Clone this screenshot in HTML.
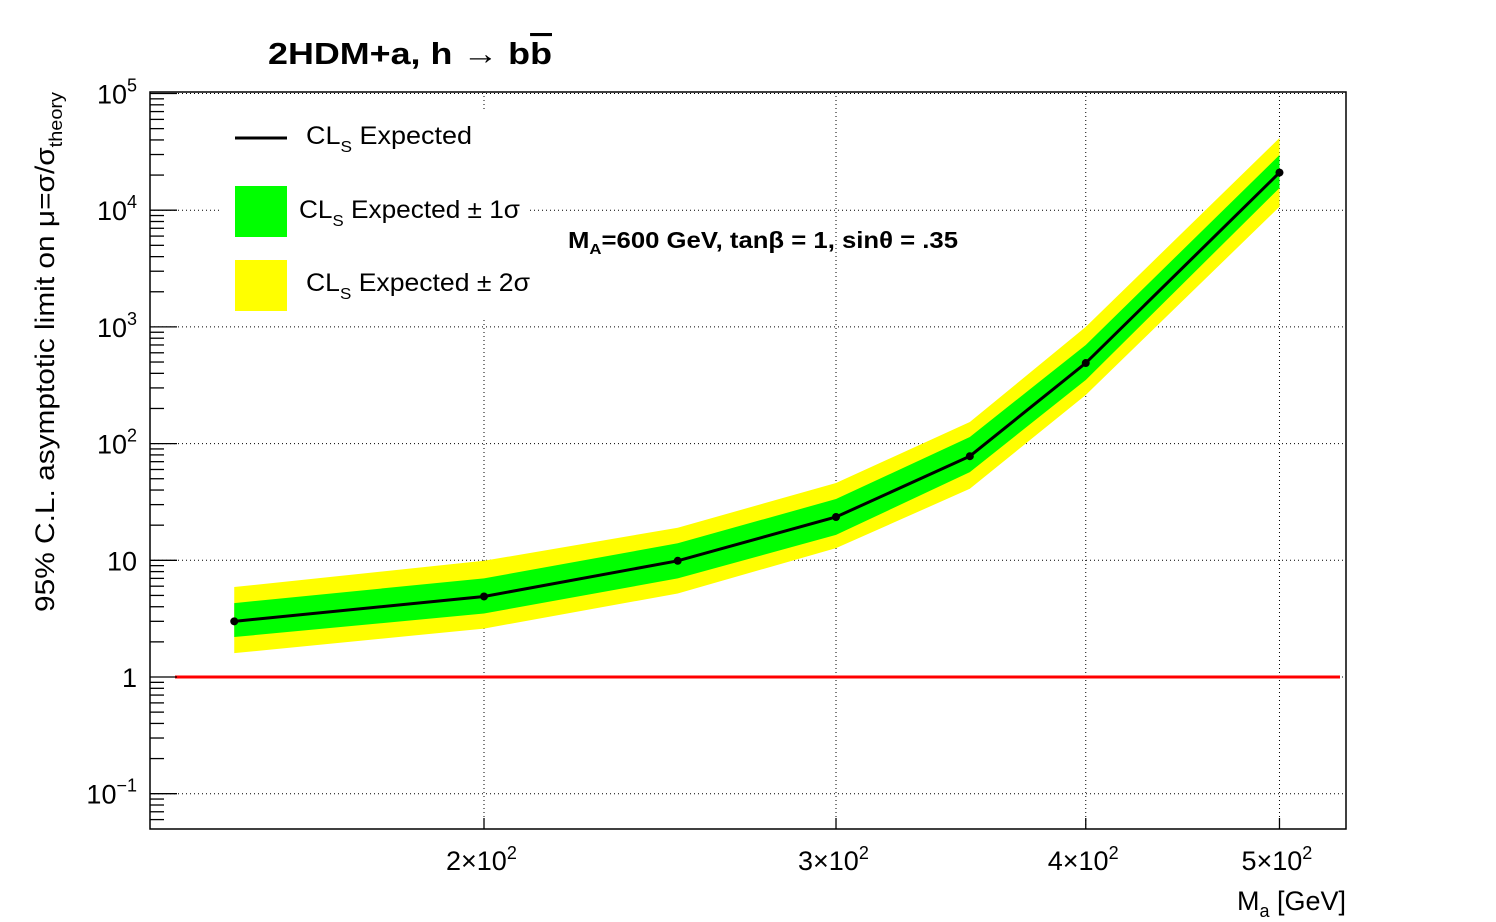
<!DOCTYPE html>
<html><head><meta charset="utf-8"><style>
html,body{margin:0;padding:0;background:#fff;}
svg{display:block;font-family:"Liberation Sans",sans-serif;}
</style></head><body>
<svg id="c" width="1496" height="922" xmlns="http://www.w3.org/2000/svg">
<rect width="1496" height="922" fill="#fff"/>
<g id="grid"></g>
<g id="bands"></g>
<g id="lines"></g>
<g id="axes"></g>
<g>
  <rect x="222" y="112" width="308" height="205" fill="#fff"/>
  <line x1="235" y1="138" x2="287" y2="138" stroke="#000" stroke-width="3"/>
  <text x="306" y="144" font-size="25" textLength="166" lengthAdjust="spacingAndGlyphs">CL<tspan font-size="16" dy="8">S</tspan><tspan dy="-8">  Expected</tspan></text>
  <rect x="235" y="186" width="52" height="51" fill="#00ff00"/>
  <text x="299" y="218" font-size="25" textLength="221" lengthAdjust="spacingAndGlyphs">CL<tspan font-size="16" dy="8">S</tspan><tspan dy="-8">  Expected ± 1σ</tspan></text>
  <rect x="235" y="260" width="52" height="51" fill="#ffff00"/>
  <text x="306" y="291" font-size="25" textLength="224" lengthAdjust="spacingAndGlyphs">CL<tspan font-size="16" dy="8">S</tspan><tspan dy="-8">  Expected ± 2σ</tspan></text>
</g>
<text x="268" y="64" font-size="31" font-weight="bold" textLength="284" lengthAdjust="spacingAndGlyphs">2HDM+a,   h → b<tspan text-decoration="overline">b</tspan></text>
<text x="568" y="248" font-size="23" font-weight="bold" textLength="390" lengthAdjust="spacingAndGlyphs">M<tspan font-size="15" dy="6">A</tspan><tspan dy="-6">=600 GeV, tanβ = 1, sinθ = .35</tspan></text>
<text x="1346" y="910" font-size="27" text-anchor="end">M<tspan font-size="18" dy="7">a</tspan><tspan dy="-7"> [GeV]</tspan></text>
<text transform="translate(54,612) rotate(-90)" font-size="27" textLength="520" lengthAdjust="spacingAndGlyphs">95% C.L. asymptotic limit on μ=σ/σ<tspan font-size="18" dy="8">theory</tspan></text>
</svg>
<script>
const masses=[150,200,250,300,350,400,500];
const expected=[3.0,4.9,9.9,23.5,78,490,21000];
const up1=[4.3,7.0,14,33.5,114,700,29700];
const lo1=[2.2,3.5,7.0,16.5,57,351,15500];
const up2=[5.9,9.9,19,46,153,1000,41600];
const lo2=[1.6,2.6,5.2,12.7,41,261,10700];
const xTicks=[200,300,400,500];
const xTickMant=["2","3","4","5"];
const yDecades=[-1,0,1,2,3,4,5];
const yTickBase=["10","1","10","10","10","10","10"];
const yTickExp=["−1","","","2","3","4","5"];
const refLevel=1;

const L=150,R=1346,T=92,B=829;
const X=m=>484+1999*Math.log10(m/200);
const Y=v=>677-116.7*Math.log10(v);
const NS="http://www.w3.org/2000/svg";
function mk(tag,attrs,parent){const e=document.createElementNS(NS,tag);for(const k in attrs)e.setAttribute(k,attrs[k]);parent.appendChild(e);return e;}
const grid=document.getElementById('grid'),bands=document.getElementById('bands'),lines=document.getElementById('lines'),axes=document.getElementById('axes');

xTicks.forEach((m,i)=>{
  const g=mk('line',{x1:X(m),x2:X(m),y1:T,y2:B,stroke:'#000','stroke-width':1,'stroke-dasharray':'1 3'},grid);
  
  
  const t=mk('line',{x1:X(m),x2:X(m),y1:B,y2:B-11,stroke:'#000','stroke-width':1.3},axes);
  
  
  const tx=mk('text',{x:X(m)-38,y:870,'font-size':27},axes);
  tx.innerHTML=xTickMant[i]+'×10<tspan font-size="18" dy="-11">2</tspan>';
  
  
});
yDecades.forEach((d,i)=>{
  const y=Y(Math.pow(10,d));
  const g=mk('line',{x1:L,x2:R,y1:y,y2:y,stroke:'#000','stroke-width':1,'stroke-dasharray':'1 3'},grid);
  
  
  const t=mk('line',{x1:L,x2:L+27,y1:y,y2:y,stroke:'#000','stroke-width':1.3},axes);
  
  
  const tx=mk('text',{x:137,y:y+10,'font-size':27,'text-anchor':'end'},axes);
  tx.innerHTML=yTickBase[i]+(yTickExp[i]?'<tspan font-size="18" dy="-12">'+yTickExp[i]+'</tspan>':'');
  
  
  for(let k=2;k<=9;k++){
    const ym=Y(k*Math.pow(10,d));
    if(ym>T&&ym<B){const mt=mk('line',{x1:L,x2:L+14,y1:ym,y2:ym,stroke:'#000','stroke-width':1.3},axes);
    
    }
  }
});
for(let k=6;k<=9;k++){const ym=Y(k*0.01);if(ym<B){const mt=mk('line',{x1:L,x2:L+14,y1:ym,y2:ym,stroke:'#000','stroke-width':1.3},axes);

}}

function band(up,lo,color,name){
  let pts=masses.map((m,i)=>X(m)+','+Y(up[i]));
  pts=pts.concat(masses.slice().reverse().map((m,j)=>{const i=masses.length-1-j;return X(m)+','+Y(lo[i]);}));
  const p=mk('polygon',{points:pts.join(' '),fill:color},bands);
  
  
}
band(up2,lo2,'#ffff00','band-2sigma');
band(up1,lo1,'#00ff00','band-1sigma');

const rl=mk('line',{x1:175,x2:1340,y1:Y(refLevel),y2:Y(refLevel),stroke:'#ff0000','stroke-width':3},lines);


const pl=mk('polyline',{points:masses.map((m,i)=>X(m)+','+Y(expected[i])).join(' '),fill:'none',stroke:'#000','stroke-width':3},lines);


masses.forEach((m,i)=>{
  const c=mk('circle',{cx:X(m),cy:Y(expected[i]),r:4,fill:'#000'},lines);
  
  
});
const fr=mk('rect',{x:L,y:T,width:R-L,height:B-T,fill:'none',stroke:'#000','stroke-width':1.5},axes);


</script>
</body></html>
